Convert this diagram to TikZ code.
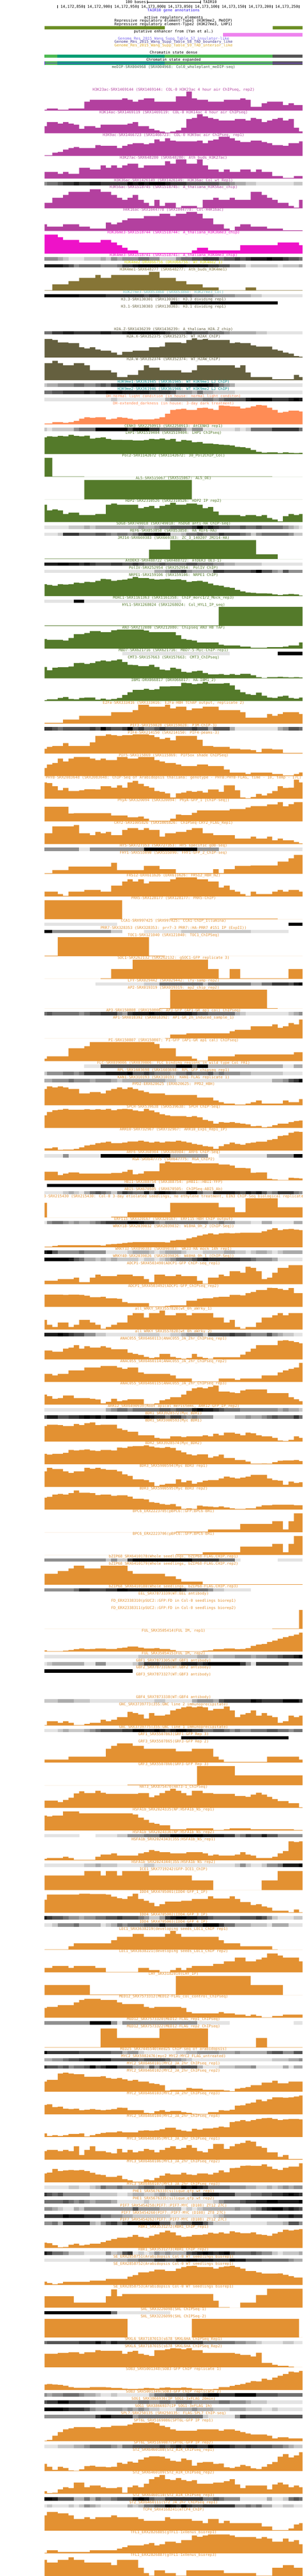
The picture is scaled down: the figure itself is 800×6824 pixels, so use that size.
\documentclass[tikz,border=0pt]{standalone}
\usepackage{fontspec}
\newfontfamily\lblf{DejaVu Sans Mono}
\definecolor{cpur}{RGB}{179,64,159}
\definecolor{cmag}{RGB}{238,18,200}
\definecolor{cyel}{RGB}{220,220,10}
\definecolor{colv}{RGB}{134,117,54}
\definecolor{cteal}{RGB}{110,190,190}
\definecolor{ch2a}{RGB}{101,96,63}
\definecolor{ctl}{RGB}{0,139,139}
\definecolor{ccor}{RGB}{255,140,85}
\definecolor{cgrn}{RGB}{84,122,42}
\definecolor{corg}{RGB}{227,145,50}
\definecolor{cmed}{RGB}{68,98,70}
\definecolor{ctair}{RGB}{45,20,235}
\definecolor{colivebar}{RGB}{107,142,35}
\definecolor{cviolet}{RGB}{238,130,238}
\definecolor{cs7}{RGB}{123,104,238}
\definecolor{cs8}{RGB}{72,61,139}
\definecolor{cs9}{RGB}{218,165,32}
\definecolor{chlg}{RGB}{77,185,82}
\definecolor{chtg}{RGB}{0,158,115}
\definecolor{chdg}{RGB}{85,85,85}
\definecolor{chpl}{RGB}{120,60,230}
\tikzset{lbl/.style={anchor=base,inner sep=0pt,font=\lblf\fontsize{9.97pt}{10pt}\selectfont}}
\newcommand\lab[3]{\node[lbl,text=#1] (n#2) at (459,#2+3.5) {#3};}
\newcommand\bars[5]{\fill[#2] \foreach \xe/\yt [remember=\xe as \xp (initially 231), evaluate=\yt as \hh using {ifthenelse((\yt)>9000,0,min(51.5,max(1,(#4-(\yt))/#3)))}] in {#5} {(\xp/1.96,#1+56) rectangle (\xe/1.96,#1+56-\hh)};}
\newcommand\dense[2]{\foreach \xe/\g [remember=\xe as \xp (initially 231)] in {#2} {\ifnum\g>0 \pgfmathtruncatemacro\gp{round(\g*11.12)}\fill[black!\gp] (\xp/1.96,#1+5) rectangle (\xe/1.96+0.4,#1+14);\fi}}
\begin{document}
\begin{tikzpicture}[x=1pt,y=-1pt]
\fill[white] (0,0) rectangle (800,6824);
\useasboundingbox (0,0) rectangle (800,6824);
% header
\node[lbl,anchor=base east] (sbt) at (386,9.5) {100 bases};
\draw[line width=1pt] (388.8,6) -- (529.6,6) (388.8,2) -- (388.8,10) (529.6,2) -- (529.6,10);
\node[lbl,anchor=base west] (tair) at (537,9.5) {TAIR10};
\draw[line width=1pt] (152.6,14) -- (152.6,21.7);
\foreach \x/\t in {223/{14,172,850},293.9/{14,172,900},365.3/{14,172,950},436.2/{14,173,000},507.1/{14,173,050},578.1/{14,173,100},649/{14,173,150},719.9/{14,173,200},790.8/{14,173,250}} {\draw[line width=1pt] (\x,14) -- (\x,21.7); \node[lbl,anchor=base east] at (\x-2.5,21) {\t};}
\node[lbl,text=ctair] (tga) at (459,30.5) {TAIR10 gene annotations};
\node[lbl] (are) at (459,49.2) {active regulatory elements};
\node[lbl] (rr1) at (459,58.2) {Repressive regulatory element-Type1 (H3K9me2, MeDIP)};
\node[lbl] (rr2) at (459,67.2) {Repressive regulatory element-Type2 (H3K27me3, LHP1)};
\fill[colivebar] (118,69) rectangle (436,77.7) (721,69) rectangle (800,77.7);
\node[lbl] (pen) at (459,86.5) {putative enhancer from (Yan et al.)};
\fill[cviolet] (589,88) rectangle (800,96.7);
\node[lbl,text=cs7] (s7) at (459,105.2) {Genome\_Res\_2015\_Wang\_Supp\_Table\_S7\_insulator-like};
\node[lbl,text=cs8] (s8) at (459,114.2) {Genome\_Res\_2015\_Wang\_Supp\_Table\_S8\_TAD\_boundary\_like};
\node[lbl,text=cs9] (s9) at (459,123.2) {Genome\_Res\_2015\_Wang\_Supp\_Table\_S9\_TAD\_interior\_like};
\node[lbl] (csd) at (459,142.2) {Chromatin state dense};
\fill[chlg] (118,144) rectangle (152.5,152.7);
\fill[chtg] (152,144) rectangle (436.5,152.7);
\fill[chlg] (436,144) rectangle (720.5,152.7);
\fill[chdg] (720,144) rectangle (800,152.7);
\node[lbl] (cse) at (459,161.2) {Chromatin state expanded};
\fill[chlg] (118,163) rectangle (152.5,172);
\fill[chtg] (152,163) rectangle (436.5,172);
\fill[chlg] (436,163) rectangle (720.5,172);
\fill[chdg] (720,163) rectangle (800,172);
\draw[chpl,line width=1pt] (118,167.3) -- (800,167.3) (118.5,163) -- (118.5,172);
% tracks
\lab{cmed}{177}{meDIP-SRX004968 (SRX004968: Col0\_wholeplant\_meDIP-seq)}
\lab{cpur}{237}{H3K23ac-SRX1469144 (SRX1469144: COL-0 H3K23ac 4 hour air ChIPseq, rep2)}
\bars{237}{cpur}{3}{278}{243/272,299/261,355/272,437/261,466/207,633/192,661/180,688/192,716/207,745/192,800/180,911/207,966/165,994/126,1021/180,1078/192,1160/207,1245/192,1272/180,1299/192,1356/248,1384/219,1466/207,1495/234,1523/219,1568/234}
\lab{cpur}{297}{H3K14ac-SRX1469119 (SRX1469119: COL-0 H3K14ac 4 hour air ChIPseq)}
\bars{297}{cpur}{3}{458}{243/402,299/369,327/381,355/369,382/381,410/390,437/423,494/402,521/414,661/390,688/381,716/369,772/402,800/423,827/435,855/445,882/453,911/445,939/435,966/414,994/345,1021/336,1050/306,1078/324,1105/336,1133/345,1217/357,1272/345,1299/357,1327/336,1356/345,1384/369,1411/357,1439/345,1466/336,1495/357,1523/345,1550/414,1568/444}
\lab{cpur}{357}{H3K9ac-SRX1466723 (SRX1466723: COL-0 H3K9ac air ChIPseq, rep1)}
\bars{357}{cpur}{3}{638}{271/633,299/612,327/606,355/588,382/576,410/567,494/576,521/552,606/558,633/576,661/558,688/546,745/537,772/546,800/537,827/507,855/522,882/498,911/516,1021/522,1050/516,1078/537,1105/516,1133/507,1190/486,1217/498,1245/516,1299/528,1356/516,1384/528,1411/537,1466/552,1495/558,1550/537,1568/522}
\lab{cpur}{417}{H3K27ac-SRX648280 (SRX648280: Ath\_buds\_H3K27ac)}
\bars{417}{cpur}{3}{818}{299/765,327/780,355/765,410/780,466/732,521/747,549/714,576/732,606/714,633/732,661/714,716/699,745/732,855/714,882/681,911/699,966/666,1021/699,1050/666,1078/714,1133/747,1160/765,1190/747,1245/765,1299/747,1327/765,1356/747,1411/765,1466/798,1523/813,1568/798}
\lab{cpur}{477}{H3K36ac-SRX1426149 (SRX1426149: H3K36ac\_Col\_wt\_Rep1)}
\dense{477}{243/4,299/5,327/6,382/7,410/8,466/7,521/8,661/7,688/9,716/8,745/9,772/8,855/9,882/8,966/7,1133/6,1190/5,1217/4,1272/3,1327/2,1523/1,1568/2}
\lab{cpur}{496}{H3K56ac-SRX1518745 (SRX1518745: A\_thaliana\_H3K56ac\_chip)}
\bars{496}{cpur}{3}{1055}{271/1011,327/971,355/948,466/924,521/903,576/924,606/948,633/971,661/987,688/971,716/948,745/987,772/1011,800/1035,827/987,855/1035,911/1011,939/1050,1021/1035,1050/1050,1105/987,1133/971,1190/987,1217/971,1299/987,1356/924,1384/948,1411/971,1439/987,1495/1011,1523/1035,1550/1050,1568/987}
\lab{cpur}{556}{H4K16ac-SRX1044778 (SRX1044778: Col-H4K16ac)}
\bars{556}{cpur}{3}{1235}{243/1182,327/1200,410/1182,466/1200,549/1215,576/1167,606/1182,633/1167,661/1149,745/1134,827/1116,882/1098,911/1116,966/1098,1021/1083,1050/1098,1105/1134,1160/1182,1190/1215,1217/1230,1245/1200,1299/1182,1384/1200,1466/1215,1568/1230}
\lab{cmag}{616}{H3K36me3-SRX1518744 (SRX1518744: A\_thaliana\_H3K36me3\_chip)}
\bars{616}{cmag}{3}{1415}{299/1263,327/1284,410/1305,521/1326,576/1305,606/1326,633/1347,661/1368,716/1389,994/1410,1021/1389,1078/1368,1245/1389,1439/1347,1550/1326,1568/1347}
\lab{cmag}{676}{H3K4me3-SRX1518741 (SRX1518741: A\_thaliana\_H3K4me3\_chip)}
\dense{676}{299/4,327/3,355/2,437/1,521/2,549/3,576/2,606/4,633/3,716/4,772/5,827/4,911/2,939/4,994/5,1050/6,1133/7,1160/5,1217/6,1245/7,1272/6,1299/7,1384/8,1411/9,1466/8,1495/7,1550/6,1568/5}
\lab{cyel}{695}{H3K4me2-DRX066756 (DRX066756: WT\_H3K4me2\_1)}
\dense{695}{327/8,355/7,382/6,410/4,521/5,606/4,633/5,688/7,716/8,966/9,1078/8,1133/7,1190/6,1245/4,1272/3,1299/1,1439/2,1466/1,1550/2,1568/3}
\lab{colv}{714}{H3K4me1-SRX648277 (SRX648277: Ath\_buds\_H3K4me1)}
\bars{714}{colv}{2.55}{175}{271/172,355/132,410/110,494/89,521/69,576/89,772/69,827/48,911/89,966/110,1050/132,1133/153,1272/172,1327/153,1568/172}
\lab{cteal}{774}{H3K27me3-SRX853860 (SRX853860: H3K27me3\_Col)}
\dense{774}{410/9,549/8,745/7,772/6,827/7,994/6,1105/5,1217/4,1299/3,1356/2,1568/1}
\lab{ch2a}{793}{H3.3-SRX130301 (SRX130301: H3.3 dividing rep1)}
\dense{793}{882/0,1439/9}
\lab{ch2a}{812}{H3.1-SRX130303 (SRX130303: H3.1 dividing rep1)}
\lab{ch2a}{872}{H2A.Z-SRX1436239 (SRX1436239: A\_thaliana\_H2A.Z\_chip)}
\dense{872}{271/5,327/7,382/8,521/7,576/8,633/7,661/8,827/9,855/8,882/7,966/6,994/7,1078/6,1160/5,1190/4,1327/3,1384/2,1568/1}
\lab{ch2a}{891}{H2A.X-SRX352375 (SRX352375: WT\_H2AX\_ChIP)}
\bars{891}{ch2a}{2.55}{630}{271/505,299/512,355/528,410/533,437/561,466/569,494/561,521/576,576/584,606/597,633/612,688/592,772/584,827/561,855/556,939/528,966/533,994/512,1021/500,1050/510,1078/505,1190/512,1217/533,1245/528,1299/533,1327/548,1411/556,1439/576,1466/584,1495/597,1523/604,1550/620,1568/625}
\lab{ch2a}{951}{H2A.W-SRX352374 (SRX352374: WT\_H2AW\_ChIP)}
\bars{951}{ch2a}{2.55}{783}{271/668,299/653,327/668,382/683,437/668,466/683,576/716,606/732,661/762,716/747,745/716,772/683,827/699,939/716,994/732,1021/716,1217/683,1245/699,1272/683,1299/732,1411/762,1523/777,1550/747,1568/762}
\lab{ctl}{1011}{H3K9me1-SRX361945 (SRX361945: WT\_H3K9me1\_LJ\_ChIP)}
\dense{1011}{243/2,299/3,382/4,437/5,494/4,521/5,549/6,576/5,606/7,688/8,800/9,827/8,855/9,882/8,911/7,1021/8,1078/9,1105/8,1133/7,1160/5,1190/4,1217/3,1568/1}
\lab{ctl}{1030}{H3K9me2-SRX361946 (SRX361946: WT\_H3K9me2\_LJ\_ChIP)}
\dense{1030}{271/5,327/6,437/7,466/8,494/7,549/8,633/9,772/8,882/7,911/6,994/4,1021/3,1050/5,1105/3,1217/2,1568/1}
\lab{ccor}{1049}{DH-normal\_light\_condition (in house: normal light conditon)}
\dense{1049}{576/1,606/2,855/1,882/3,1050/4,1105/5,1133/4,1160/5,1272/6,1299/8,1411/9,1495/7,1523/8,1550/9,1568/8}
\lab{ccor}{1068}{DH-extended\_darkness (in house: 3-day dark treatment)}
\bars{1068}{ccor}{2.55}{1081}{271/1076,327/1066,355/1071,382/1066,410/1058,437/1043,466/1033,494/1038,549/1033,576/1048,606/1043,633/1033,661/1038,688/1043,716/1050,800/1048,827/1043,855/1033,882/1010,911/984,939/979,966/976,1021/984,1050/971,1078/969,1105/976,1133/984,1160/954,1190/956,1217/959,1245/961,1272/974,1299/969,1327/959,1356/951,1384/954,1411/969,1439/984,1466/1002,1495/997,1550/989,1568/994}
\lab{cgrn}{1128}{CENH3-SRX2250913 (SRX2250913: AtCENH3\_rep1)}
\dense{1128}{243/2,271/1,382/2,410/4,494/5,661/9,688/7,772/9,827/7,939/5,966/4,994/2,1050/4,1217/1,1245/2,1272/1,1299/2,1411/5,1550/7,1568/5}
\lab{cgrn}{1147}{LHP1-SRX1519404 (SRX1519404: LHP1 ChIPseq)}
\bars{1147}{cgrn}{2.55}{1283}{243/1170,271/1163,299/1165,327/1160,355/1163,382/1153,410/1160,437/1163,466/1158,494/1178,521/1173,549/1170,576/1180,633/1186,688/1188,745/1191,772/1188,800/1180,827/1183,855/1178,882/1186,911/1180,939/1198,966/1188,994/1191,1021/1203,1050/1201,1105/1211,1133/1216,1160/1219,1190/1221,1217/1224,1245/1234,1272/1237,1299/1242,1327/1255,1356/1268,1384/1273,1439/1271,1466/1276,1495/1271,1523/1274,1550/1276,1568/1274}
\lab{cgrn}{1207}{Pol2-SRX1142672 (SRX1142672: 30\_Pol2ChIP\_Col)}
\bars{1207}{cgrn}{2.55}{1433}{271/1305,437/1432,855/9999,1411/1432,1568/9999}
\lab{cgrn}{1267}{AL5-SRX515067 (SRX515067: AL5\_OE)}
\bars{1267}{cgrn}{2.55}{1589}{437/9999,994/1458,1568/9999}
\lab{cgrn}{1327}{HDP2-SRX2310526 (SRX2310526: HDP2 IP rep2)}
\bars{1327}{cgrn}{2.55}{173}{243/56,271/94,299/87,327/94,355/118,410/110,494/125,549/118,576/56,606/48,716/56,745/79,772/71,800/64,827/79,855/64,882/56,911/43,966/56,1021/48,1050/56,1078/79,1105/71,1133/102,1245/125,1272/133,1327/125,1356/133,1384/125,1411/145,1439/156,1466/168,1495/133,1523/118,1550/125,1568/118}
\lab{cgrn}{1387}{SDG8-SRX749018 (SRX749018: hSDG8 anti-HA ChIP-seq)}
\dense{1387}{355/1,437/2,466/3,494/2,716/3,745/4,800/3,827/4,882/5,994/6,1021/7,1050/9,1078/7,1105/8,1133/7,1190/6,1245/5,1272/6,1327/5,1356/6,1466/5,1495/4,1523/3,1550/2,1568/1}
\lab{cgrn}{1406}{REF6-SRX853858 (SRX853858: HA\_REF6-HA)}
\dense{1406}{299/1,327/2,410/7,494/5,549/6,576/5,606/4,661/5,688/4,716/5,745/7,800/8,855/9,882/8,939/2,966/3,1021/5,1050/6,1133/5,1160/7,1245/6,1272/5,1299/4,1327/2,1356/4,1495/5,1523/4,1568/2}
\lab{cgrn}{1425}{JMJ14-SRX669383 (SRX669383: ZC\_3\_140207 JMJ14-HA)}
\bars{1425}{cgrn}{2.55}{421}{772/418,882/357,1327/293,1439/389,1568/9999}
\lab{cgrn}{1485}{AtDEK3-SRX488722 (SRX488722: AtDEK3 OE3-1)}
\dense{1485}{299/8,355/9,410/8,437/7,466/8,494/7,576/6,633/7,688/6,716/7,745/6,827/5,855/6,966/5,1021/6,1105/5,1160/4,1217/3,1356/2,1568/1}
\lab{cgrn}{1504}{PolIV-SRX252954 (SRX252954: PolIV ChIP)}
\dense{1504}{800/1,855/3,882/4,939/6,966/7,994/4,1105/3,1160/7,1299/6,1327/7,1356/9,1411/6,1439/4,1466/3,1495/6,1568/4}
\lab{cgrn}{1523}{NRPE1-SRX159106 (SRX159106: NRPE1 ChIP)}
\bars{1523}{cgrn}{2.55}{672}{243/592,271/597,299/602,327/592,355/594,382/592,410/581,437/584,466/576,494/579,521/569,549/556,576/559,606/569,633/564,661/561,688/553,716/543,772/551,800/556,827/561,855/559,882/556,911/561,939/559,966/564,994/576,1021/572,1050/569,1078/576,1105/587,1133/599,1160/602,1190/612,1217/617,1245/630,1272/640,1299/648,1327/650,1384/653,1411/655,1439/660,1466/665,1495/660,1523/658,1550/660,1568/668}
\lab{cgrn}{1583}{MORC1-SRX1161363 (SRX1161358: ChIP\_morc1/2\_Mock\_rep3)}
\dense{1583}{382/1,437/9,939/1}
\lab{cgrn}{1602}{HYL1-SRX1268024 (SRX1268024: Col\_HYL1\_IP\_seq)}
\bars{1602}{cgrn}{2.55}{872}{1133/870,1568/743}
\lab{cgrn}{1662}{AN3-SRX212080 (SRX212080: Chipseq AN3 HB TAP)}
\bars{1662}{cgrn}{2.55}{1025}{243/961,327/966,355/971,382/954,437/928,466/920,521/908,576/915,606/902,745/897,772/903,911/915,939/936,966/961,994/966,1021/971,1133/984,1160/999,1245/1004,1299/1012,1384/1020,1466/1016,1495/1012,1550/1004,1568/984}
\lab{cgrn}{1722}{MBD7-SRX621716 (SRX621716: MBD7-5-Myc-ChIP-rep1)}
\dense{1722}{633/0,1190/1,1439/0,1568/9}
\lab{cgrn}{1741}{CMT3-SRX157663 (SRX157663: CMT3\_ChIPseq)}
\bars{1741}{cgrn}{2.55}{1227}{243/1150,271/1173,299/1155,355/1152,382/1147,410/1124,437/1122,466/1129,494/1124,521/1112,549/1107,576/1112,606/1107,633/1099,661/1117,688/1135,716/1137,772/1145,800/1135,827/1150,855/1168,882/1173,911/1155,939/1163,966/1183,994/1188,1021/1180,1050/1175,1078/1191,1133/1201,1160/1198,1190/1203,1217/1198,1245/1203,1299/1196,1327/1206,1356/1219,1384/1224,1439/1219,1466/1216,1495/1219,1523/1221,1550/1219,1568/1221}
\lab{cgrn}{1801}{IBM1-DRX066817 (DRX066817: HA-IBM1\_2)}
\bars{1801}{cgrn}{2.55}{1380}{243/1375,299/1369,327/1359,355/1354,382/1366,410/1369,437/1359,494/1356,521/1371,549/1364,576/1371,606/1366,633/1359,661/1339,688/1321,745/1305,772/1298,800/1305,827/1300,882/1282,939/1280,966/1257,994/1260,1021/1267,1050/1262,1078/1252,1160/1262,1190/1260,1217/1275,1245/1303,1272/1321,1299/1334,1327/1339,1356/1323,1384/1344,1411/1356,1439/1359,1466/1349,1495/1344,1523/1359,1550/1364,1568/1356}
\lab{corg}{1861}{E2Fa-SRX333416 (SRX333416: E2Fa-HBH TChAP output, replicate 2)}
\bars{1861}{corg}{2.55}{1533}{327/1528,410/1505,576/1480,688/1456,716/1442,772/1405,855/1418,882/1405,911/1430,966/1418,994/1442,1050/1430,1133/1418,1245/1442,1272/1456,1384/1493,1411/1468,1439/1480,1466/1468,1550/1456,1568/1468}
\lab{corg}{1921}{PIF3-SRX159028 (SRX159028: P3M-ChIP-3)}
\dense{1921}{271/7,299/6,327/5,466/6,494/7,521/6,549/9,576/7,633/6,661/7,688/9,716/6,745/7,800/5,827/6,855/7,994/6,1021/7,1078/6,1105/4,1190/6,1217/3,1439/1,1466/3,1495/4,1550/6,1568/5}
\lab{corg}{1940}{PIF4-SRX214150 (SRX214150: PIF4-peaks-3)}
\bars{1940}{corg}{2.55}{167}{243/135,271/122,327/117,355/97,466/117,494/92,549/48,576/38,606/43,633/48,688/43,772/38,800/43,827/56,855/69,882/61,911/79,1021/48,1050/74,1105/117,1190/122,1245/135,1299/140,1327/145,1356/158,1411/135,1466/140,1568/163}
\lab{corg}{2000}{PIF5-SRX115869 (SRX115869: PIF5ox shade ChIPSeq)}
\bars{2000}{corg}{2.55}{320}{243/265,271/241,299/232,327/201,355/221,382/201,466/191,494/201,521/212,549/201,606/212,661/191,716/201,800/191,827/212,855/221,911/232,939/241,1021/252,1078/241,1160/252,1190/275,1272/296,1299/306,1411/296,1466/306,1523/315,1550/306,1568/295}
\lab{corg}{2060}{PHYB-SRX2083648 (SRX2083648: ChIP-Seq of Arabidopsis thaliana: genotype - PHYB:PHYB-FLAG, time - 10, temp - 17C)}
\bars{2060}{corg}{2.55}{473}{243/362,271/367,299/388,327/415,355/400,410/421,437/415,494/408,521/410,576/388,606/398,633/382,661/398,688/362,716/352,745/372,772/388,800/398,827/421,855/426,882/436,911/464,939/436,966/431,994/421,1021/426,1050/421,1078/431,1133/410,1160/426,1217/382,1245/415,1272/464,1299/469,1327/461,1356/441,1384/451,1411/436,1439/421,1466/388,1495/400,1523/398,1550/344,1568/362}
\lab{corg}{2120}{PhyA-SRX320094 (SRX320094: PhyA-GFP\_1 [ChIP-seq])}
\bars{2120}{corg}{2.55}{627}{355/528,382/574,576/571,661/587,716/599,745/594,772/609,882/622,911/609,939/581,994/584,1021/569,1190/553,1272/543,1299/533,1384/523,1439/512,1466/497,1495/525,1523/510,1568/497}
\lab{corg}{2180}{CRY2-SRX1005826 (SRX1005826: ChIPSeq-CRY2\_FLAG\_Rep1)}
\bars{2180}{corg}{2.55}{779}{271/706,382/660,410/650,466/706,494/719,521/696,549/706,576/696,633/719,661/683,716/671,745/683,772/671,827/683,855/729,911/706,966/696,994/683,1050/671,1105/706,1217/719,1299/742,1327/729,1384/742,1411/729,1439/754,1466/742,1523/754,1550/765,1568/775}
\lab{corg}{2240}{HY5-SRX727353 (SRX727353: HY5 specific gDB-seq)}
\dense{2240}{410/4,466/1,745/4,1021/9,1133/4,1568/1}
\lab{corg}{2259}{FHY1-SRX555090 (SRX555090: FHY1-GFP\_2\_ChIP-seq)}
\bars{2259}{corg}{2.55}{980}{271/976,355/954,576/931,606/905,745/954,827/926,911/948,1105/974,1133/948,1160/974,1217/948,1299/926,1439/923,1495/897,1523/875,1568/852}
\lab{corg}{2319}{FRS12-ERX611626 (ERX611626: FRS12\_HBH\_N2)}
\bars{2319}{corg}{2.55}{1134}{299/1101,327/1117,355/1129,437/1101,521/1089,576/1101,633/1061,661/1033,688/1017,716/1033,745/1017,772/1045,882/1033,911/1017,1021/1005,1078/1017,1133/1033,1160/1073,1190/1061,1217/1089,1245/1101,1272/1117,1299/1129,1327/1101,1411/1117,1439/1101,1466/1089,1495/1101,1550/1089,1568/1101}
\lab{corg}{2379}{PRR5-SRX128177 (SRX128177: PRR5-ChIP)}
\bars{2379}{corg}{2.55}{1286}{633/1158,882/9999,1439/1282,1568/9999}
\lab{corg}{2439}{CCA1-SRX997425 (SRX997425: CCA1-ChIP\_Illumina)}
\dense{2439}{606/1,1495/0,1568/9}
\lab{corg}{2458}{PRR7-SRX328353 (SRX328353: prr7-3 PRR7::HA-PRR7 \#151 IP (ExpII))}
\dense{2458}{271/9,576/4,633/2,745/0,939/1,1299/2,1495/1}
\lab{corg}{2477}{TOC1-SRX121040 (SRX121040: TOC1\_ChIPSeq)}
\bars{2477}{corg}{2.55}{1535}{299/1532,772/1407,855/1532,1568/9999}
\lab{corg}{2537}{SOC1-SRX262132 (SRX262132: gSOC1-GFP replicate 3)}
\bars{2537}{corg}{2.55}{120}{521/9999,576/117,688/54,1078/-10,1133/54,1190/117,1245/54,1495/117,1568/54}
\lab{corg}{2597}{LFY-SRX029442 (SRX029442: lfy-samp-rep2)}
\dense{2597}{494/0,745/1,827/2,1050/5,1078/3,1299/5,1356/3,1411/5,1495/7,1523/6,1550/8,1568/9}
\lab{corg}{2616}{AP2-SRX019319 (SRX019319: ap2\_chip\_rep2)}
\bars{2616}{corg}{2.55}{322}{827/9999,882/319,1384/194,1439/319,1568/9999}
\lab{corg}{2676}{AP3-SRX150808 (SRX150808: AP3-GFP (AP1-GR ap1 cal) ChIPseq)}
\dense{2676}{243/5,271/6,410/5,437/4,466/5,521/6,606/7,633/5,661/4,688/7,772/8,800/9,994/8,1021/7,1078/6,1217/5,1245/3,1272/2,1495/1,1523/2,1550/3,1568/4}
\lab{corg}{2695}{AP1-SRX018392 (SRX018392: AP1-GR\_2h\_induced\_sample\_1)}
\bars{2695}{corg}{2.55}{523}{855/9999,882/520,966/497,1190/488,1217/474,1299/464,1411/441,1439/428,1466/451,1495/441,1523/418,1550/428,1568/395}
\lab{corg}{2755}{PI-SRX150807 (SRX150807: PI-GFP (AP1-GR ap1 cal) ChIPseq)}
\bars{2755}{corg}{2.55}{677}{243/660,355/645,437/590,466/576,800/548,827/561,911/590,994/645,1021/660,1078/673,1217/645,1523/632,1568/617}
\lab{corg}{2815}{FLC-SRX039006 (SRX039006: FLC binding regions in wild type Col FRI)}
\dense{2815}{437/0,521/1,911/6,994/9,1021/6,1078/9,1466/3,1523/1,1568/3}
\lab{corg}{2834}{RPL-SRX1603698 (SRX1603698: RPL-GFP\_chipseq\_rep1)}
\dense{2834}{243/2,327/4,382/5,410/4,437/5,549/7,661/8,688/9,745/6,772/7,800/6,882/5,911/4,966/5,994/6,1078/5,1105/6,1133/4,1160/5,1245/4,1299/3,1466/2,1568/1}
\lab{corg}{2853}{KAN1-SRX310193 (SRX310193: KAN1-FLAG replicate 1)}
\dense{2853}{271/3,355/4,382/5,466/4,494/3,576/4,606/3,633/2,855/3,911/2,1411/1,1466/3,1495/4,1523/6,1550/7,1568/9}
\lab{corg}{2872}{PPD2-ERX620625 (ERX620625: PPD2\_HBH)}
\bars{2872}{corg}{2.55}{975}{243/864,271/847,299/854,327/847,355/854,410/864,466/895,521/885,549/895,576/875,606/864,633/854,661/864,688/854,716/864,745/875,772/885,855/895,1021/905,1105/923,1133/943,1160/954,1217/964,1272/971,1299/964,1327/954,1356/943,1466/964,1495/943,1550/954,1568/933}
\lab{corg}{2932}{SPCH-SRX539638 (SRX539638: SPCH ChIP-Seq)}
\bars{2932}{corg}{2.55}{1128}{243/1043,271/1020,299/1008,327/1005,355/999,437/1005,466/1002,494/1005,521/1002,549/1005,576/999,606/1008,633/1002,661/999,688/1002,716/1010,745/1015,772/999,800/1010,827/1022,855/1035,882/1043,966/1048,994/1053,1021/1048,1050/1056,1078/1073,1105/1081,1133/1099,1160/1089,1190/1092,1217/1089,1245/1094,1272/1099,1299/1104,1327/1117,1356/1114,1384/1124,1411/1119,1439/1109,1495/1099,1523/1089,1550/1081,1568/1078}
\lab{corg}{2992}{ARR10-SRX732967 (SRX732967: ARR10\_Exp1\_Rep1\_IP)}
\bars{2992}{corg}{2.55}{1281}{271/1266,299/1259,327/1276,382/1274,410/1269,437/1259,466/1246,494/1241,521/1231,549/1226,576/1221,633/1231,661/1226,716/1219,745/1214,772/1221,800/1226,827/1221,855/1226,882/1219,911/1221,939/1214,966/1219,994/1226,1021/1236,1050/1241,1078/1251,1105/1254,1133/1269,1160/1251,1190/1238,1217/1226,1245/1236,1272/1241,1299/1231,1327/1226,1384/1221,1411/1209,1439/1203,1466/1183,1495/1178,1523/1160,1550/1152,1568/1155}
\lab{corg}{3052}{ARF6-SRX368984 (SRX368984: ARF6 ChIP-Seq)}
\dense{3052}{327/1,355/4,521/1,882/9,1078/4,1133/0,1384/1,1523/4,1568/9}
\lab{corg}{3071}{RGA-SRX647775 (SRX647775: RGA\_ChIP2)}
\bars{3071}{corg}{2.55}{1482}{299/1423,327/1446,355/1436,410/1428,576/1436,633/1431,661/1423,688/1410,716/1441,745/1436,827/1420,855/1367,882/1355,994/1360,1133/1367,1190/1375,1217/1382,1272/1397,1299/1400,1327/1430,1384/1428,1411/1471,1439/1476,1495/1479,1523/1464,1550/1466,1568/1469}
\lab{corg}{3131}{HBI1-SRX388754 (SRX388754: pHBI1::HBI1-YFP)}
\dense{3131}{243/0,800/9}
\lab{corg}{3150}{ABI5-SRX670505 (SRX670505: ChIPSeq-ABI5\_Ab)}
\dense{3150}{327/1,355/2,382/3,410/2,437/1,466/3,494/5,521/6,549/5,576/4,606/2,633/5,661/7,688/6,745/5,772/8,800/5,827/8,855/9,882/8,911/7,966/6,1021/9,1050/6,1105/4,1217/8,1245/7,1272/6,1299/8,1327/7,1356/8,1384/6,1411/4,1439/5,1523/7,1550/5,1568/4}
\begin{scope}
\clip (118,3155) rectangle (800,3180);
\node[lbl,text=corg] (n3169) at (459,3172.5) {EIN3-SRX215430 (SRX215430: Col-0 3-day etiolated seedlings, no ethylene treatment, EIN3 ChIP-Seq biological replicate 1)};
\end{scope}
\bars{3169}{corg}{2.55}{165}{243/66,576/9999,661/160,882/130,1133/66,1217/97,1272/130,1439/36,1568/97}
\lab{corg}{3229}{ERF115-SRX320167 (SRX320167: ERF115-HBH ChIP output)}
\dense{3229}{243/1,271/4,327/5,355/4,382/3,410/4,466/3,494/4,521/5,549/6,661/7,716/9,745/8,800/7,827/5,855/4,1078/5,1133/4,1160/5,1217/4,1299/2,1356/1,1411/3,1523/1,1568/3}
\lab{corg}{3248}{WRKY18-SRX2039032 (SRX2039032: W18HA\_0h\_2 (ChIP-Seq))}
\bars{3248}{corg}{2.55}{366}{271/362,299/357,521/352,549/355,576/347,606/344,633/342,661/337,688/334,855/331,882/334,911/321,966/316,994/306,1021/298,1050/288,1078/280,1105/273,1133/280,1160/273,1190/270,1217/273,1245/270,1356/268,1384/258,1411/247,1439/237,1466/250,1495/245,1523/242,1550/247,1568/250}
\lab{corg}{3308}{WRKY33-SRX890383 (SRX890383: WK33-HA mock 14h rep1)}
\dense{3308}{243/8,271/9,299/6,410/4,437/5,549/4,661/1,688/2,772/3,800/2,827/1,855/2,939/3,966/2,1050/1,1160/2,1217/3,1272/2,1299/1,1327/2,1384/3,1411/2,1439/1,1466/2,1568/3}
\lab{corg}{3327}{WRKY40-SRX2039026 (SRX2039026: W40HA\_0h\_1 (ChIP-Seq))}
\dense{3327}{355/9,382/8,410/6,437/5,494/3,521/2,549/3,576/2,606/3,716/2,745/1,800/2,827/1,855/2,882/3,911/4,994/5,1021/6,1050/7,1078/8,1245/7,1299/6,1327/5,1411/4,1439/3,1568/1}
\lab{corg}{3346}{ADCP1-SRX4503490(ADCP1-GFP ChIP-seq\_rep1)}
\bars{3346}{corg}{2.55}{616}{299/592,382/581,410/571,466/602,494/571,521/551,606/561,688/551,745/561,772/581,800/602,855/551,911/561,939/551,1021/561,1050/592,1078/612,1133/571,1160/551,1190/561,1245/528,1272/538,1299/497,1327/505,1356/528,1384/581,1411/571,1439/538,1495/505,1568/487}
\lab{corg}{3406}{ADCP1\_SRX4503492(ADCP1-GFP\_ChIPseq\_rep2)}
\bars{3406}{corg}{2.55}{769}{327/686,355/688,410/686,437/688,466/693,521/704,549/701,606/711,633/714,661/737,772/744,855/765,882/762,966/758,1021/727,1050/714,1105/711,1133/704,1190/701,1245/688,1272/691,1299/676,1327/668,1384/655,1411/640,1439/642,1466/647,1495/655,1523/642,1568/676}
\lab{corg}{3466}{all\_WRKY\_SRX3557820(wt\_0h\_aWrky\_1)}
\bars{3466}{corg}{2.55}{922}{243/857,271/890,299/905,355/875,382/905,410/890,466/857,494/875,521/890,549/917,576/905,606/890,661/875,688/826,745/811,772/841,827/811,855/793,911/826,966/811,994/826,1105/811,1160/841,1190/875,1217/857,1245/905,1272/917,1327/905,1356/875,1411/841,1439/826,1466/811,1495/826,1568/811}
\lab{corg}{3526}{all\_WRKY\_SRX3557828(wt\_0h\_aWrky\_2)}
\dense{3526}{299/8,327/9,355/8,382/7,437/6,494/4,549/2,716/1,827/2,882/1,939/2,966/3,1050/4,1078/2,1190/6,1217/7,1272/6,1299/5,1384/4,1411/6,1439/4,1466/3,1523/2,1568/1}
\lab{corg}{3545}{ANAC055\_SRX6460113(ANAC055\_JA\_2hr\_ChIPseq\_rep1)}
\bars{3545}{corg}{2.55}{1123}{271/1063,327/1071,355/1050,382/1043,410/1027,437/1050,466/1035,521/1043,549/1035,576/1043,661/1055,688/1078,716/1086,745/1094,772/1106,800/1114,827/1109,882/1086,911/1106,939/1114,966/1119,994/1114,1021/1086,1050/1106,1078/1114,1105/1119,1245/1109,1272/1091,1299/1071,1327/1050,1439/1027,1466/997,1495/994,1523/999,1550/1007,1568/1015}
\lab{corg}{3605}{ANAC055\_SRX6460114(ANAC055\_JA\_2hr\_ChIPseq\_rep2)}
\bars{3605}{corg}{2.55}{1276}{271/1221,299/1231,355/1221,437/1198,521/1178,606/1168,633/1178,661/1188,716/1178,745/1211,882/1221,911/1231,994/1252,1133/1272,1217/1252,1245/1262,1356/1252,1439/1231,1466/1211,1495/1198,1523/1188,1550/1178,1568/1147}
\lab{corg}{3665}{ANAC055\_SRX6460115(ANAC055\_JA\_2hr\_ChIPseq\_rep3)}
\bars{3665}{corg}{2.55}{1429}{243/1361,271/1371,299/1390,327/1384,382/1367,466/1384,494/1390,521/1394,549/1420,576/1410,606/1390,633/1405,661/1400,745/1392,800/1425,827/1420,855/1400,882/1392,939/1379,966/1361,994/1336,1021/1318,1050/1313,1078/1318,1105/1310,1133/1300,1190/1341,1217/1346,1245/1351,1272/1333,1384/1326,1495/1351,1523/1379,1550/1392,1568/1405}
\lab{corg}{3725}{ARR12\_SRX6490939(Root apical meristems, ARR12-GFP\_IP\_rep2)}
\dense{3725}{549/1,576/3,606/4,661/5,688/4,827/5,882/6,911/5,994/6,1021/8,1050/9,1105/8,1133/7,1160/6,1245/5,1439/4,1466/3,1495/4,1550/3,1568/2}
\lab{corg}{3744}{BDR1\_SRX3928572(Myc\_BDR1)}
\dense{3744}{243/6,299/8,355/6,410/7,437/8,466/9,494/8,521/9,549/7,606/9,661/7,745/8,772/9,800/8,855/7,882/5,939/7,966/5,994/4,1021/5,1105/4,1217/1,1272/3,1299/4,1356/3,1384/4,1411/5,1439/6,1523/5,1550/7,1568/5}
\lab{corg}{3763}{BDR1\_SRX5900593(Myc BDR1)}
\bars{3763}{corg}{1}{0}{243/-41,299/-45,327/-44,382/-41,410/-47,437/-44,466/-49,494/-51,521/-44,606/-45,633/-35,661/-31,716/-26,800/-17,827/-10,882/-8,939/-14,966/-12,1050/-14,1078/-17,1105/-14,1133/-21,1160/-17,1217/-24,1245/-21,1272/-17,1299/-24,1327/-22,1356/-17,1411/-14,1439/-10,1466/-3,1495/-2,1523/-5,1550/-14,1568/-10}
\lab{corg}{3823}{BDR2\_SRX3928574(Myc\_BDR2)}
\bars{3823}{corg}{2.57}{266}{243/195,271/200,327/195,355/188,382/168,410/172,437/168,466/165,494/172,521/175,576/168,606/172,633/152,661/154,688/145,745/142,772/137,800/145,827/152,855/154,882/148,911/154,939/172,966/185,994/198,1021/205,1078/198,1105/221,1133/211,1160/200,1217/224,1272/237,1299/247,1356/262,1384/260,1411/262,1439/252,1466/242,1523/239,1550/237,1568/244}
\lab{corg}{3883}{BDR3\_SRX5900594(Myc BDR3 rep1)}
\bars{3883}{corg}{2.57}{420}{243/314,271/290,327/298,355/314,382/324,437/314,466/290,494/296,521/290,549/298,606/303,633/314,661/334,688/344,745/368,772/373,800/388,827/414,855/405,911/398,939/368,966/388,994/378,1021/398,1050/388,1078/378,1133/373,1160/362,1190/350,1217/357,1245/362,1272/357,1299/350,1384/337,1411/362,1439/373,1466/378,1495/405,1523/383,1550/393,1568/388}
\lab{corg}{3943}{BDR3\_SRX5900595(Myc BDR3 rep2)}
\bars{3943}{corg}{2.57}{575}{243/494,271/488,299/473,327/468,355/473,382/463,410/445,466/460,494/463,521/476,576/473,606/481,661/478,688/486,745/501,772/506,800/524,827/529,855/537,882/542,911/537,939/553,966/570,994/566,1021/570,1050/548,1078/553,1105/555,1133/558,1160/553,1190/560,1217/566,1272/571,1327/566,1356/555,1411/545,1523/542,1568/545}
\lab{corg}{4003}{BPC6\_ERX2223705(pBPC6::GFP:BPC6-BR1)}
\bars{4003}{corg}{2.57}{728}{911/9999,1078/725,1245/709,1411/671,1466/653,1495/709,1523/653,1568/599}
\lab{corg}{4063}{BPC6\_ERX2223706(pBPC6::GFP:BPC6-BR1)}
\bars{4063}{corg}{2.57}{882}{911/9999,1050/879,1245/864,1411/826,1466/807,1495/864,1523/807,1568/753}
\lab{corg}{4123}{bZIP68\_SRX6410178(Whole seedlings, bZIP68-FLAG.CHIP.rep1)}
\dense{4123}{549/4,576/2,606/4,661/2,688/7,994/9,1133/7,1217/5,1245/1,1439/0,1568/1}
\lab{corg}{4142}{bZIP68\_SRX6410179(Whole seedlings, bZIP68-FLAG.CHIP.rep2)}
\bars{4142}{corg}{2.57}{1085}{299/1010,355/992,382/974,437/956,521/974,661/956,688/992,855/1010,911/1028,939/1046,1050/1064,1568/1082}
\lab{corg}{4202}{bZIP68\_SRX6410180(Whole seedlings, bZIP68-FLAG.CHIP.rep3)}
\dense{4202}{382/4,410/5,466/7,549/6,606/7,661/9,939/8,966/7,1078/5,1105/4,1160/2,1299/1}
\lab{corg}{4221}{EEL\_SRX7873339(WT:EEL antibody)}
\lab{corg}{4240}{FD\_ERX2338310(pSUC2::GFP:FD in Col-0 seedlings biorep1)}
\lab{corg}{4259}{FD\_ERX2338311(pSUC2::GFP:FD in Col-0 seedlings biorep2)}
\bars{4259}{corg}{2.57}{1386}{1411/9999,1550/1383,1568/1257}
\lab{corg}{4319}{FUL\_SRX3505414(FUL IM, rep1)}
\bars{4319}{corg}{2.57}{1540}{243/1532,327/1537,355/1534,382/1529,410/1524,437/1519,466/1524,494/1522,549/1519,606/1522,633/1517,661/1514,716/1506,745/1514,800/1519,827/1517,882/1522,911/1529,1050/1537,1078/1535,1105/1532,1160/1524,1217/1519,1245/1524,1272/1522,1299/1517,1327/1501,1356/1493,1384/1488,1411/1475,1439/1465,1466/1452,1495/1442,1523/1434,1550/1424,1568/1411}
\lab{corg}{4379}{FUL\_SRX3505415(FUL IM, rep2)}
\dense{4379}{716/1,1021/2,1078/3,1105/2,1217/3,1299/4,1327/3,1384/4,1439/5,1466/6,1523/7,1550/8,1568/9}
\lab{corg}{4398}{GBF1\_SRX7873305(WT:GBF1 antibody)}
\dense{4398}{243/1,271/2,437/3,494/1,549/4,688/1,716/2,745/4,827/7,939/6,1021/8,1050/7,1078/8,1245/9,1272/7,1299/4,1327/1,1495/7,1568/4}
\lab{corg}{4417}{GBF2\_SRX7873316(WT:GBF2 antibody)}
\dense{4417}{688/9}
\lab{corg}{4436}{GBF3\_SRX7873327(WT:GBF3 antibody)}
\lab{corg}{4496}{GBF4\_SRX7873338(WT:GBF4 antibody)}
\dense{4496}{299/2,382/3,466/2,800/1,855/2,994/1,1021/3,1105/4,1133/3,1160/6,1299/7,1327/9,1356/8,1466/7,1550/9,1568/7}
\lab{corg}{4515}{GNC\_SRX3739773(35S:GNC line 2 immunoprecipitate)}
\bars{4515}{corg}{2.57}{476}{243/473,299/447,327/458,355/447,382/458,437/473,466/465,521/458,549/437,576/447,606/437,661/419,688/383,716/391,745/401,772/428,800/391,855/409,882/401,911/373,939/362,966/352,994/347,1021/352,1050/347,1078/352,1105/373,1160/362,1190/347,1217/373,1245/419,1272/401,1299/391,1327/373,1356/409,1384/391,1411/409,1439/419,1466/458,1495/447,1523/409,1550/419,1568/409}
\lab{corg}{4575}{GNC\_SRX3739775(35S:GNC line 1 immunoprecipitate)}
\dense{4575}{299/1,327/2,355/3,437/2,466/3,494/4,521/5,633/6,688/7,745/9,800/8,827/9,855/8,882/7,911/8,966/9,994/8,1050/7,1105/5,1160/6,1190/5,1217/4,1245/5,1299/4,1384/5,1439/6,1495/5,1523/4,1568/5}
\lab{corg}{4594}{GRF1\_SRX5507863(GRF1-GFP Rep 3)}
\dense{4594}{939/0,1495/9}
\lab{corg}{4613}{GRF3\_SRX5507865(GRF3-GFP Rep 2)}
\bars{4613}{corg}{2.57}{729}{355/709,549/689,576/635,606/615,688/599,745/615,911/635,994/653,1105/635,1133/689,1160/709,1384/725,1550/689,1568/709}
\lab{corg}{4673}{GRF3\_SRX5507866(GRF3-GFP Rep 3)}
\bars{4673}{corg}{2.57}{883}{661/9999,1021/880,1217/753,1568/817}
\lab{corg}{4733}{HAT3\_SRX875470(HAT3-1\_ChIPSeq)}
\bars{4733}{corg}{2.57}{1036}{299/987,327/997,355/982,382/967,410/938,437/923,494/936,521/920,549/933,716/941,772/936,800/964,827/951,855/936,882/920,911/907,939/920,966/936,994/951,1050/920,1105/936,1217/941,1272/956,1299/961,1327/946,1356/933,1384/946,1411/961,1439/977,1495/990,1550/1005,1568/1033}
\lab{corg}{4793}{HSFA1b\_SRX2024335(NP:HSFA1b\_NS\_rep1)}
\bars{4793}{corg}{2.57}{1190}{243/1089,271/1094,327/1089,410/1061,688/1073,716/1081,745/1103,772/1118,800/1138,827/1145,882/1155,966/1182,1105/1175,1160/1187,1190/1182,1299/1175,1523/1182,1568/1187}
\lab{corg}{4853}{HSFA1b\_SRX2024336(NP:HSFA1b\_NS\_rep2)}
\dense{4853}{410/1,494/0,606/1,661/2,745/4,827/5,882/7,1050/9,1160/8,1217/7,1245/4,1272/5,1299/7,1356/6,1384/8,1439/6,1568/4}
\lab{corg}{4872}{HSFA1b\_SRX2024343(35S:HSFA1b\_NS\_rep1)}
\bars{4872}{corg}{2.57}{1394}{243/1384,327/1378,355/1370,382/1378,494/1391,521/1370,576/1355,606/1347,716/1362,745/1347,772/1339,800/1324,827/1331,882/1339,966/1347,1050/1339,1078/1347,1105/1362,1133/1355,1217/1362,1245/1355,1272/1339,1299/1355,1327/1362,1411/1378,1439/1370,1466/1347,1495/1331,1523/1265,1550/1270,1568/1265}
\lab{corg}{4932}{HSFA1b\_SRX2024344(35S:HSFA1b\_NS\_rep2)}
\dense{4932}{437/1,494/2,521/3,606/2,745/1,800/2,1217/1,1245/2,1272/4,1299/2,1356/1,1384/2,1439/4,1466/5,1550/8,1568/9}
\lab{corg}{4951}{ICE1\_SRX7719242(GFP-ICE1\_ChIP)}
\bars{4951}{corg}{2.57}{1598}{437/1499,521/1468,549/1499,606/1468,633/1499,772/1468,994/1499,1105/1532,1356/9999,1439/1532,1568/1468}
\lab{corg}{5011}{IDD4\_SRX4705001(IDD4-GFP\_1\_IP)}
\bars{5011}{corg}{2.57}{184}{243/95,410/60,466/54,549/57,576/60,606/74,633/85,661/90,688/72,716/54,745/90,772/102,800/116,827/139,855/126,939/108,994/102,1078/90,1105/72,1190/87,1217/72,1245/90,1299/111,1327/131,1356/126,1384/141,1411/149,1495/170,1523/180,1550/162,1568/180}
\lab{corg}{5071}{IDD4\_SRX4705002(IDD4-GFP\_3\_IP)}
\dense{5071}{243/8,271/7,327/6,355/5,410/4,437/3,494/4,549/5,606/6,633/7,716/6,745/5,772/4,827/2,855/4,882/7,911/8,966/9,1021/8,1078/7,1105/6,1245/5,1327/6,1356/7,1384/6,1411/4,1439/2,1523/1,1568/2}
\lab{corg}{5090}{IDD4\_SRX4705003(IDD4-GFP\_4\_IP)}
\dense{5090}{271/1,299/2,382/4,410/5,521/3,549/1,576/2,606/3,633/5,661/4,745/5,827/6,855/8,966/6,994/8,1050/7,1133/9,1160/7,1217/5,1299/3,1384/2,1411/1,1495/3,1568/1}
\lab{corg}{5109}{LEC1\_SRX3638219(developing seeds\_LEC1\_ChIP rep1)}
\bars{5109}{corg}{2.57}{435}{355/432,382/411,576/391,606/370,688/347,745/327,855/347,882/327,911/306,939/327,1133/347,1160/370,1245/391,1411/411,1439/432,1568/9999}
\lab{corg}{5169}{LEC1\_SRX3638221(developing seeds\_LEC1\_ChIP rep2)}
\bars{5169}{corg}{2.57}{589}{271/558,355/545,382/558,494/545,549/558,716/586,772/558,827/573,882/586,911/573,939/558,966/573,994/558,1105/545,1160/531,1217/514,1272/488,1327/514,1356/501,1384/488,1439/460,1466/474,1550/488,1568/514}
\lab{corg}{5229}{LHY\_SRX3182010(LHY\_IP)}
\bars{5229}{corg}{2.57}{744}{466/676,911/740,1299/614,1466/676,1568/9999}
\lab{corg}{5289}{MED12\_SRX7573312(MED12-FLAG\_col\_control\_ChIPseq)}
\bars{5289}{corg}{2.57}{898}{243/831,299/824,382/813,410/794,437/777,521/769,606/777,633/794,745/805,772/824,800/831,939/824,966/831,994/859,1133/869,1160/859,1217/869,1272/877,1299/887,1327/877,1356/887,1411/895,1466/887,1568/877}
\lab{corg}{5349}{MED12\_SRX7573320(MED12-FLAG\_rep1\_ChIPseq)}
\dense{5349}{466/4,576/9,606/4,633/1,1021/4,1190/1,1523/0,1568/1}
\lab{corg}{5368}{MED12\_SRX7573322(MED12-FLAG\_rep2\_ChIPseq)}
\bars{5368}{corg}{2.57}{1100}{521/1098,606/971,827/1035,1078/971,1327/1098,1384/1035,1568/1098}
\lab{corg}{5428}{MED25\_SRX7445540(med25 ChIP-seq of arabidopsis)}
\dense{5428}{243/9,410/7,576/6,633/5,661/3,716/4,745/2,911/1,966/2,1021/3,1133/4,1217/3,1245/4,1384/3,1411/5,1466/6,1523/4,1568/6}
\lab{corg}{5447}{MYC2\_SRX5982476(myc2\_MYC2:MYC2\_FLAG\_untreated)}
\dense{5447}{271/3,327/4,355/5,410/6,437/7,521/9,576/8,716/6,745/5,855/6,882/5,939/4,966/3,994/2,1411/1,1495/2,1550/3,1568/4}
\lab{corg}{5466}{MYC2\_SRX6460101(MYC2\_JA\_2hr\_ChIPseq\_rep1)}
\dense{5466}{243/7,299/6,327/5,355/6,382/4,437/5,466/6,494/9,521/6,549/7,606/9,688/6,745/4,772/3,800/6,827/4,882/6,911/7,939/5,1021/6,1050/3,1133/1,1217/2,1299/3,1327/4,1466/1,1495/3,1523/1,1568/3}
\lab{corg}{5485}{MYC2\_SRX6460102(MYC2\_JA\_2hr\_ChIPseq\_rep2)}
\bars{5485}{corg}{2.57}{1401}{243/1332,299/1321,327/1277,355/1272,382/1277,437/1282,521/1300,549/1296,576/1308,606/1313,633/1308,661/1316,688/1326,716/1321,772/1332,800/1344,827/1349,855/1357,882/1393,966/1388,994/1375,1050/1380,1160/1388,1190/1393,1217/1398,1245/1380,1272/1375,1299/1370,1356/1357,1411/1339,1439/1326,1495/1344,1568/1332}
\lab{corg}{5545}{MYC2\_SRX6460103(MYC2\_JA\_2hr\_ChIPseq\_rep3)}
\bars{5545}{corg}{2.57}{1555}{243/1491,271/1486,299/1506,327/1503,355/1516,382/1519,410/1516,437/1527,466/1524,494/1519,521/1524,549/1527,576/1524,606/1519,633/1509,661/1511,745/1527,772/1545,800/1547,827/1534,855/1527,882/1537,939/1532,966/1540,994/1545,1021/1550,1078/1552,1133/1540,1160/1527,1190/1529,1217/1524,1245/1496,1272/1493,1299/1481,1327/1475,1356/1455,1384/1465,1411/1452,1466/1439,1495/1442,1523/1439,1550/1434,1568/1427}
\lab{corg}{5605}{MYC2\_SRX6460104(MYC2\_JA\_2hr\_ChIPseq\_rep4)}
\bars{5605}{corg}{2.57}{143}{243/118,271/136,299/131,327/136,355/131,410/123,437/118,466/139,494/131,521/123,549/116,606/111,633/105,716/111,745/100,772/98,800/100,827/98,855/90,911/80,939/93,966/100,994/105,1021/87,1050/93,1105/85,1133/80,1160/72,1190/77,1217/41,1245/36,1272/28,1299/36,1327/28,1356/20,1384/15,1411/13,1439/20,1466/28,1495/23,1550/20,1568/23}
\lab{corg}{5665}{MYC3\_SRX6460105(MYC3\_JA\_2hr\_ChIPseq\_rep1)}
\bars{5665}{corg}{2.57}{297}{243/239,299/231,327/239,355/231,382/239,410/206,437/265,466/231,494/206,549/239,576/247,606/254,633/224,661/247,688/231,716/247,745/239,772/224,800/231,827/247,855/231,882/216,911/206,939/224,966/216,994/198,1021/216,1050/239,1078/247,1105/224,1160/190,1190/224,1217/206,1245/190,1272/183,1299/167,1327/175,1356/206,1384/216,1439/247,1466/278,1495/265,1568/293}
\lab{corg}{5725}{MYC3\_SRX6460106(MYC3\_JA\_2hr\_ChIPseq\_rep2)}
\bars{5725}{corg}{2.57}{451}{243/391,271/385,299/360,327/375,355/370,382/368,410/370,437/368,466/375,494/386,521/398,549/401,606/414,633/406,661/429,688/437,745/447,772/432,800/437,827/421,855/406,882/391,939/398,966/386,994/398,1021/401,1078/391,1105/398,1133/386,1160/370,1190/383,1217/355,1245/352,1272/339,1299/337,1356/339,1384/329,1411/344,1439/360,1466/368,1495/352,1550/344,1568/321}
\lab{corg}{5785}{MYC3\_SRX6460107(MYC3\_JA\_2hr\_ChIPseq\_rep3)}
\dense{5785}{355/1,410/2,466/1,494/2,521/3,549/5,606/4,633/5,716/4,745/5,800/6,855/5,939/7,966/9,994/8,1021/9,1050/8,1078/7,1190/5,1272/4,1327/3,1384/2,1411/3,1439/2,1466/3,1495/4,1523/3,1568/4}
\lab{corg}{5804}{PHE1\_SRX5676333(silique.gfp.wt\_rep1)}
\dense{5804}{243/7,271/6,299/5,327/6,466/4,606/2,661/1,688/2,745/3,800/2,827/3,855/4,882/3,994/4,1050/6,1133/8,1217/7,1299/4,1356/5,1411/6,1466/7,1495/8,1523/9,1550/8,1568/7}
\lab{corg}{5823}{PHE1\_SRX5676335(silique.gfp.wt\_rep2)}
\dense{5823}{327/5,355/6,382/5,410/4,437/5,466/4,494/3,576/4,606/3,745/1,772/2,1105/1,1133/2,1160/4,1245/5,1272/6,1327/7,1384/8,1439/9,1550/8,1568/9}
\lab{corg}{5842}{PIF7\_SRX5454258(PIF7::PIF7-MYC (D108)\_ZT12\_27C)}
\dense{5842}{271/4,299/3,327/2,382/1,410/3,437/2,688/4,716/6,827/4,939/3,966/1,994/2,1021/1,1050/2,1217/3,1245/4,1299/3,1327/4,1356/5,1384/7,1411/8,1466/9,1495/7,1523/8,1550/7,1568/6}
\lab{corg}{5861}{PIF7\_SRX5454260(PIF7::PIF7-MYC (D108)\_ZT8\_27C)}
\dense{5861}{327/7,355/9,437/8,521/7,576/5,633/4,688/3,882/2,1105/1,1133/2,1160/3,1299/4,1439/6,1495/7,1523/8,1568/7}
\lab{corg}{5880}{PIF7\_SRX5454262(PIF7::PIF7-MYC (D108)\_ZT12\_27C)}
\dense{5880}{271/4,299/5,327/3,466/7,494/3,521/2,549/4,576/6,606/7,633/5,661/7,827/9,882/6,911/3,939/5,994/6,1050/8,1078/6,1105/4,1190/2,1384/1,1466/2,1495/3,1550/6,1568/4}
\lab{corg}{5899}{RBR1\_SRX3531272(RBR1\_ChIP\_rep1)}
\bars{5899}{corg}{2.57}{899}{243/862,271/867,299/880,327/895,355/892,382/877,410/870,437/882,466/877,521/870,549/859,576/849,606/839,661/829,688/823,716/811,745/823,772/829,800/816,827/806,855/793,882/781,911/793,939/813,966/823,994/821,1050/811,1078/806,1105/795,1133/801,1160/793,1190/801,1217/785,1245/793,1299/798,1327/793,1356/806,1384/811,1411/816,1439/801,1466/790,1495/775,1523/780,1550/775,1568/770}
\lab{corg}{5959}{RBR1\_SRX3531273(RBR1\_ChIP\_rep2)}
\dense{5959}{243/8,271/7,327/5,355/4,437/2,549/1,576/4,606/2,633/3,661/6,688/7,716/1,745/2,772/1,800/2,827/4,855/3,882/4,966/3,994/6,1021/7,1050/8,1078/9,1105/8,1133/7,1160/8,1190/9,1217/6,1299/5,1327/6,1356/5,1411/4,1439/2,1466/1,1550/2,1568/3}
\lab{corg}{5978}{SE\_ERX2858751(Arabidopsis Col-0 WT seedlings biorep1)}
\dense{5978}{466/1,549/2,661/3,716/4,800/5,855/7,911/6,966/8,1021/9,1105/8,1190/7,1217/9,1272/8,1356/6,1495/5,1523/4,1568/3}
\lab{corg}{5997}{SE\_ERX2858752(Arabidopsis Col-0 WT seedlings biorep1)}
\bars{5997}{corg}{2.57}{1150}{243/1127,271/1137,299/1145,327/1139,466/1129,549/1120,661/1109,688/1093,716/1083,772/1064,800/1057,855/1046,911/1055,939/1039,966/1028,994/1021,1021/1019,1105/1028,1133/1039,1160/1028,1190/1024,1217/1019,1245/1028,1272/1039,1327/1055,1356/1064,1439/1073,1466/1071,1495/1081,1523/1090,1568/1099}
\lab{corg}{6057}{SE\_ERX2858753(Arabidopsis Col-0 WT seedlings biorep1)}
\bars{6057}{corg}{2.57}{1304}{382/1226,549/1270,576/1226,606/1180,633/1226,1105/1211,1133/1257,1190/1302,1245/9999,1327/1270,1384/1218,1568/1175}
\lab{corg}{6117}{SHL\_SRX3226098(SHL ChIPSeq-1)}
\dense{6117}{576/9,606/5,882/1}
\lab{corg}{6136}{SHL\_SRX3226099(SHL ChIPSeq-2)}
\bars{6136}{corg}{2.57}{1505}{661/1378,994/9999,1550/1378,1568/9999}
\lab{corg}{6196}{SMXL6\_SRX7187013(s678 SMXL6HA\_ChIPSeq\_Rep1)}
\dense{6196}{243/5,410/6,494/7,521/9,549/7,576/6,606/8,1050/7,1133/5,1217/5,1272/4,1327/3,1356/2,1466/1,1523/2,1568/1}
\lab{corg}{6215}{SMXL6\_SRX7187015(s678 SMXL6HA\_ChIPSeq\_Rep2)}
\bars{6215}{corg}{2.57}{143}{299/51,355/46,410/40,437/51,494/40,521/26,633/31,661/51,688/38,716/31,745/51,772/59,800/66,855/26,882/20,911/13,939/15,966/20,994/13,1050/26,1217/46,1245/51,1299/59,1327/69,1356/44,1411/113,1439/126,1495/133,1523/139,1568/9999}
\lab{corg}{6275}{SOB3\_SRX5001348(SOB3-GFP ChIP replicate 1)}
\bars{6275}{corg}{2.57}{297}{243/260,271/257,299/260,327/263,355/268,382/278,466/282,549/278,576/280,633/283,661/288,716/290,745/288,772/283,800/285,827/288,855/282,882/280,939/283,966/280,994/283,1050/288,1105/293,1133/290,1190/278,1217/270,1245/263,1272/257,1299/247,1327/237,1356/239,1384/221,1411/229,1439/213,1466/201,1495/188,1523/173,1550/177,1568/167}
\lab{corg}{6335}{SOB3\_SRX5001349(SOB3-GFP ChIP replicate 2)}
\dense{6335}{243/4,271/3,327/4,410/5,437/4,494/3,521/2,576/1,606/2,772/1,800/3,855/5,966/6,1050/7,1078/8,1133/9,1217/7,1327/9,1439/6,1568/5}
\lab{corg}{6354}{SOG1\_SRX3866936(IP\_SOG1-3xFLAG\_20min)}
\dense{6354}{243/6,299/7,355/9,466/7,494/6,549/5,716/4,772/5,827/4,882/5,911/4,994/5,1133/4,1190/5,1272/4,1299/3,1384/2,1568/1}
\lab{corg}{6373}{SOG1\_SRX3866937(IP\_SOG1-3xFLAG\_1h)}
\dense{6373}{327/9,355/8,437/7,466/6,494/4,549/3,633/4,661/3,688/4,716/3,745/4,772/3,827/2,911/1,994/3,1021/4,1105/3,1190/2,1272/3,1356/2,1411/1,1439/2,1568/1}
\lab{corg}{6392}{SPL7-SRX250135 (SRX250135: FLAG-SPL7 ChIP-seq)}
\dense{6392}{494/4,521/7,576/9,688/7,716/4,1050/5,1078/2,1217/1,1245/4,1272/7,1568/6}
\lab{corg}{6411}{SPT6L\_SRX5169086(SPT6L-GFP IP rep1)}
\bars{6411}{corg}{2.57}{647}{243/643,271/638,299/609,327/584,355/566,382/559,494/551,521/559,576/551,661/541,688/533,772/521,800/518,827/524,855/541,882/551,911/566,1021/576,1133/566,1160/576,1217/566,1245/576,1272/584,1299/594,1384/601,1411/609,1439/628,1495/619,1568/628}
\lab{corg}{6471}{SPT6L\_SRX5169087(SPT6L-GFP IP rep2)}
\dense{6471}{299/1,382/2,437/3,466/4,576/5,606/4,633/3,688/5,827/6,855/7,882/6,911/7,939/8,966/7,1021/8,1078/7,1105/9,1190/8,1217/7,1272/6,1299/7,1411/6,1466/5,1495/4,1523/3,1568/2}
\lab{corg}{6490}{STZ\_SRX6460108(STZ\_AIR\_ChIPseq\_rep1)}
\bars{6490}{corg}{2.57}{850}{243/801,271/821,299/841,327/821,355/829,382/846,410/848,437/838,466/816,494/813,549/821,576/824,606/821,633/793,661/801,688/785,716/793,745/772,772/757,827/749,855/752,882/765,911/780,939/785,966/765,994/775,1021/813,1050/793,1105/788,1133/801,1160/798,1190/824,1217/829,1245/821,1272/808,1299/816,1327/831,1356/836,1384/821,1411/803,1439/788,1466/752,1495/734,1523/757,1550/744,1568/721}
\lab{corg}{6550}{STZ\_SRX6460109(STZ\_AIR\_ChIPseq\_rep2)}
\bars{6550}{corg}{2.57}{1004}{243/987,271/1000,299/997,327/974,355/959,382/966,437/928,466/959,521/948,549/959,606/966,633/959,661/997,688/959,716/948,745/959,772/936,800/905,827/890,855/877,882/905,911/910,939/897,966/910,994/918,1021/912,1105/936,1160/928,1190/918,1217/905,1245/941,1272/966,1384/948,1411/974,1439/941,1466/928,1495/941,1523/959,1550/948,1568/959}
\lab{corg}{6610}{STZ\_SRX6460110(STZ\_AIR\_ChIPseq\_rep3)}
\dense{6610}{271/9,299/8,382/6,437/3,466/5,494/3,521/5,576/4,606/5,688/6,716/8,745/9,772/8,800/6,855/5,1050/7,1105/5,1133/6,1160/5,1245/4,1384/1,1411/3,1466/1,1495/2,1523/5,1550/6,1568/5}
\lab{corg}{6629}{STZ\_SRX6460111(STZ\_JA\_2hr\_ChIPseq\_rep1)}
\dense{6629}{243/1,271/2,355/1,382/2,410/1,437/2,466/4,494/3,521/2,661/1,688/3,716/2,745/3,800/5,855/6,882/9,911/8,939/7,966/9,994/7,1050/6,1217/7,1272/4,1299/5,1327/4,1356/5,1411/3,1466/1,1523/2,1568/1}
\lab{corg}{6648}{TCP4\_SRX4168241(mTCP4\_ChIP)}
\bars{6648}{corg}{2.57}{1257}{243/1153,299/1129,355/1139,382/1153,437/1177,466/1165,494/1177,576/1165,606/1153,716/1165,745/1177,855/1189,882/1165,994/1177,1050/1189,1078/1205,1133/1177,1160/1205,1190/1189,1356/1205,1411/1228,1495/1253,1523/1241,1550/1215,1568/1205}
\lab{corg}{6708}{TFL1\_ERX2826885(gTFL1-1xVenus\_biorep1)}
\bars{6708}{corg}{2.57}{1411}{243/1407,299/1390,466/1401,606/1390,633/1379,661/1369,745/1357,772/1349,800/1341,827/1357,855/1349,911/1331,939/1341,994/1321,1021/1289,1050/1298,1078/1289,1190/1282,1217/1289,1327/1300,1356/1310,1384/1300,1411/1310,1466/1331,1495/1310,1523/1331,1550/1321,1568/1349}
\lab{corg}{6768}{TFL1\_ERX2826887(gTFL1-1xVenus\_biorep3)}
\bars{6768}{corg}{2.57}{1565}{243/1455,299/1473,355/1455,382/1437,437/1455,576/1473,606/1491,716/1455,745/1509,772/1545,800/1563,855/1527,911/1545,966/1563,1160/1527,1327/1545,1411/1563,1466/1509,1523/1491,1568/1509}
\end{tikzpicture}
\end{document}
